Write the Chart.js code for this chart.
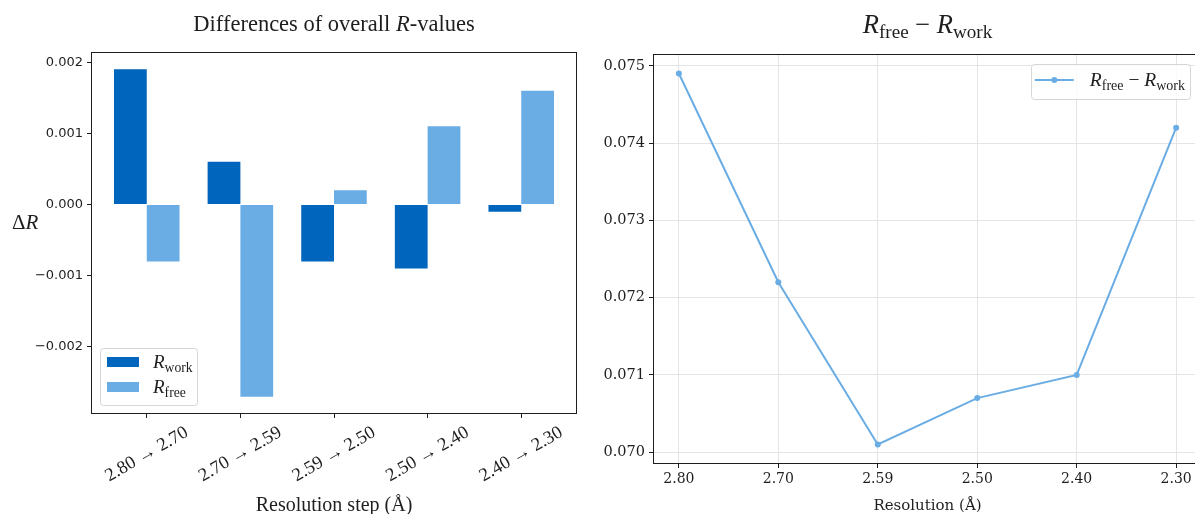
<!DOCTYPE html>
<html>
<head>
<meta charset="utf-8">
<title>R-value differences</title>
<script src="https://cdn.jsdelivr.net/npm/chart.js@4.4.1/dist/chart.umd.min.js"></script>
<style>
  html, body { margin: 0; padding: 0; background: #fff; overflow: hidden; }
  #wrap { position: relative; width: 1195px; height: 514px; overflow: hidden; }
  canvas { position: absolute; top: 0; }
  #deltaChart { left: 0; }
  #gapChart { left: 600px; }
</style>
</head>
<body>
<div id="wrap">
  <canvas id="deltaChart" width="600" height="514"></canvas>
  <canvas id="gapChart" width="620" height="514"></canvas>
</div>
<script>
// resolution steps and the change of R-values across each step
const steps = ['2.80 \u2192 2.70', '2.70 \u2192 2.59', '2.59 \u2192 2.50', '2.50 \u2192 2.40', '2.40 \u2192 2.30'];
const deltaWork = [0.0019, 0.0006, -0.0008, -0.0009, -0.0001];
const deltaFree = [-0.0008, -0.0027, 0.0002, 0.0011, 0.0016];
const deltaTicks = [-0.002, -0.001, 0.000, 0.001, 0.002];

// Rfree - Rwork gap at each resolution cutoff
const resolutions = ['2.80', '2.70', '2.59', '2.50', '2.40', '2.30'];
const gap = [0.0749, 0.0722, 0.0701, 0.0707, 0.0710, 0.0742];
const gapTicks = [0.070, 0.071, 0.072, 0.073, 0.074, 0.075];

const DARK_BLUE = '#0065bd';
const LIGHT_BLUE = '#6aade4';
const INK = '#1e1e1e';
const TEX = '"Liberation Serif", "DejaVu Serif", serif';
const SANS = '"DejaVu Sans", sans-serif';
const SLAB = '"DejaVu Serif", serif';

// tiny math-text renderer: [text, kind] with kind n = upright, i = italic, s = subscript
function layoutMath(ctx, parts, size) {
  return parts.map(([t, k]) => {
    const fs = k === 's' ? size * 0.72 : size;
    const font = (k === 'i' ? 'italic ' : '') + fs + 'px ' + TEX;
    ctx.font = font;
    return { t, font, dy: k === 's' ? size * 0.2 : 0, w: ctx.measureText(t).width };
  });
}

function mathWidth(ctx, parts, size) {
  return layoutMath(ctx, parts, size).reduce((s, r) => s + r.w, 0);
}

function drawMath(ctx, parts, x, y, size, align) {
  const runs = layoutMath(ctx, parts, size);
  const total = runs.reduce((s, r) => s + r.w, 0);
  let cx = align === 'center' ? x - total / 2 : align === 'right' ? x - total : x;
  ctx.textAlign = 'left';
  ctx.textBaseline = 'alphabetic';
  ctx.fillStyle = INK;
  runs.forEach(r => {
    ctx.font = r.font;
    ctx.fillText(r.t, cx, y + r.dy);
    cx += r.w;
  });
}

function drawLegend(ctx, ca, lg) {
  const textW = Math.max(...lg.items.map(it => mathWidth(ctx, it.parts, lg.size)));
  const w = lg.pad + lg.handle + lg.gap + textW + lg.padR;
  const x = lg.anchor === 'upperRight' ? ca.right - lg.dx - w : ca.left + lg.dx;
  const y = lg.anchor === 'upperRight' ? ca.top + lg.dy : ca.bottom - lg.dy - lg.h;

  ctx.beginPath();
  ctx.roundRect(Math.round(x) + 0.5, Math.round(y) + 0.5, Math.round(w), lg.h, 3);
  ctx.fillStyle = 'rgba(255,255,255,0.8)';
  ctx.fill();
  ctx.strokeStyle = '#d6d6d6';
  ctx.lineWidth = 1;
  ctx.stroke();

  lg.items.forEach((it, i) => {
    const cy = y + lg.rows[i];
    const hx = x + lg.pad;
    if (it.kind === 'bar') {
      ctx.fillStyle = it.color;
      ctx.fillRect(hx, cy - 5, lg.handle, 10);
    } else {
      ctx.strokeStyle = it.color;
      ctx.lineWidth = 2;
      ctx.beginPath();
      ctx.moveTo(hx, cy);
      ctx.lineTo(hx + lg.handle, cy);
      ctx.stroke();
      ctx.fillStyle = it.color;
      ctx.beginPath();
      ctx.arc(hx + lg.handle / 2, cy, 3, 0, Math.PI * 2);
      ctx.fill();
    }
    drawMath(ctx, it.parts, hx + lg.handle + lg.gap, cy + lg.size * 0.3, lg.size, 'left');
  });
}

// frame, titles, legend and slanted category labels drawn on top of the chart
function decor(cfg) {
  return {
    id: 'decor',
    afterDraw(chart) {
      const ctx = chart.ctx;
      const ca = chart.chartArea;
      ctx.save();

      ctx.strokeStyle = INK;
      ctx.lineWidth = 1;
      ctx.strokeRect(Math.round(ca.left) - 0.5, Math.round(ca.top) - 0.5,
                     Math.round(ca.right - ca.left) + 1, Math.round(ca.bottom - ca.top) + 1);

      const mid = (ca.left + ca.right) / 2;
      drawMath(ctx, cfg.title, mid, cfg.titleY, cfg.titleSize, 'center');

      if (cfg.xTitle) {
        ctx.font = cfg.xTitle.font;
        ctx.fillStyle = INK;
        ctx.textAlign = 'center';
        ctx.textBaseline = 'alphabetic';
        ctx.fillText(cfg.xTitle.text, mid, cfg.xTitle.y);
      }
      if (cfg.yTitle) {
        drawMath(ctx, cfg.yTitle.parts, cfg.yTitle.x, cfg.yTitle.y, cfg.yTitle.size, 'left');
      }

      if (cfg.slanted) {
        const sl = cfg.slanted;
        const scale = chart.scales.x;
        const ang = sl.angle * Math.PI / 180;
        ctx.font = sl.size + 'px ' + TEX;
        ctx.fillStyle = INK;
        ctx.textAlign = 'center';
        ctx.textBaseline = 'middle';
        sl.labels.forEach((txt, i) => {
          const w = ctx.measureText(txt).width;
          const h = sl.size * 0.9;
          const bh = w * Math.sin(ang) + h * Math.cos(ang);
          const px = scale.getPixelForValue(i);
          const py = ca.bottom + sl.offset + bh / 2;
          ctx.save();
          ctx.translate(px, py);
          ctx.rotate(-ang);
          ctx.fillText(txt, 0, 0);
          ctx.restore();
        });
      }

      if (cfg.legend) drawLegend(ctx, ca, cfg.legend);
      ctx.restore();
    }
  };
}

const fixedTicks = values => axis => { axis.ticks = values.map(v => ({ value: v })); };
const fmt3 = v => (v < 0 ? '\u2212' : '') + Math.abs(v).toFixed(3);

new Chart(document.getElementById('deltaChart'), {
  type: 'bar',
  data: {
    datasets: [
      { label: 'R_work', data: deltaWork.map((v, i) => ({ x: i, y: v })), backgroundColor: DARK_BLUE },
      { label: 'R_free', data: deltaFree.map((v, i) => ({ x: i, y: v })), backgroundColor: LIGHT_BLUE }
    ]
  },
  options: {
    responsive: false,
    animation: false,
    events: [],
    categoryPercentage: 0.7,
    barPercentage: 1.0,
    layout: { padding: { left: 0, top: 53, right: 24, bottom: 0 } },
    plugins: { legend: { display: false }, title: { display: false }, tooltip: { enabled: false } },
    scales: {
      x: {
        type: 'linear',
        offset: false,
        min: -0.585,
        max: 4.585,
        afterBuildTicks: fixedTicks(steps.map((_, i) => i)),
        afterFit: s => { s.height = 101; },
        border: { display: false },
        grid: { display: true, offset: false, drawOnChartArea: false, drawTicks: true, tickLength: 5, tickColor: INK, tickWidth: 1 },
        ticks: { display: false }
      },
      y: {
        min: -0.00293,
        max: 0.00213,
        afterBuildTicks: fixedTicks(deltaTicks),
        afterFit: s => { s.width = 92; },
        border: { display: false },
        grid: { display: true, drawOnChartArea: false, drawTicks: true, tickLength: 5, tickColor: INK, tickWidth: 1 },
        ticks: { callback: fmt3, color: INK, padding: 4, font: { family: SANS, size: 13 } }
      }
    }
  },
  plugins: [decor({
    title: [['Differences of overall ', 'n'], ['R', 'i'], ['-values', 'n']],
    titleY: 31,
    titleSize: 22.5,
    xTitle: { text: 'Resolution step (\u00c5)', font: '20px ' + TEX, y: 511 },
    yTitle: { parts: [['\u0394', 'n'], ['R', 'i']], x: 12, y: 229, size: 21 },
    slanted: { labels: steps, angle: 30, size: 18.5, offset: 11 },
    legend: {
      anchor: 'lowerLeft', dx: 8, dy: 8, h: 57, pad: 7, handle: 32, gap: 14, padR: 4,
      rows: [14, 39], size: 19,
      items: [
        { kind: 'bar', color: DARK_BLUE, parts: [['R', 'i'], ['work', 's']] },
        { kind: 'bar', color: LIGHT_BLUE, parts: [['R', 'i'], ['free', 's']] }
      ]
    }
  })]
});

new Chart(document.getElementById('gapChart'), {
  type: 'line',
  data: {
    datasets: [{
      label: 'R_free - R_work',
      data: gap.map((v, i) => ({ x: i, y: v })),
      borderColor: LIGHT_BLUE,
      backgroundColor: LIGHT_BLUE,
      borderWidth: 2,
      pointRadius: 3,
      pointBorderWidth: 0,
      tension: 0
    }]
  },
  options: {
    responsive: false,
    animation: false,
    events: [],
    layout: { padding: { left: 0, top: 55, right: 19, bottom: 0 } },
    plugins: { legend: { display: false }, title: { display: false }, tooltip: { enabled: false } },
    scales: {
      x: {
        type: 'linear',
        min: -0.25,
        max: 5.25,
        afterBuildTicks: fixedTicks(resolutions.map((_, i) => i)),
        afterFit: s => { s.height = 51; },
        border: { display: false },
        grid: { color: '#e4e4e4', lineWidth: 1, drawTicks: true, tickLength: 5, tickColor: INK, tickWidth: 1 },
        ticks: { callback: v => resolutions[v], color: INK, padding: 3, maxRotation: 0, font: { family: SLAB, size: 14 } }
      },
      y: {
        min: 0.06986,
        max: 0.07514,
        afterBuildTicks: fixedTicks(gapTicks),
        afterFit: s => { s.width = 54; },
        border: { display: false },
        grid: { color: '#e4e4e4', lineWidth: 1, drawTicks: true, tickLength: 5, tickColor: INK, tickWidth: 1 },
        ticks: { callback: fmt3, color: INK, padding: 4, font: { family: SLAB, size: 14.5 } }
      }
    }
  },
  plugins: [decor({
    title: [['R', 'i'], ['free', 's'], [' \u2212 ', 'n'], ['R', 'i'], ['work', 's']],
    titleY: 33,
    titleSize: 26.5,
    xTitle: { text: 'Resolution (\u00c5)', font: '15px ' + SLAB, y: 510 },
    legend: {
      anchor: 'upperRight', dx: 11, dy: 9, h: 35, pad: 4, handle: 39, gap: 16, padR: 5,
      rows: [16], size: 19.5,
      items: [
        { kind: 'line', color: LIGHT_BLUE, parts: [['R', 'i'], ['free', 's'], [' \u2212 ', 'n'], ['R', 'i'], ['work', 's']] }
      ]
    }
  })]
});
</script>
</body>
</html>
